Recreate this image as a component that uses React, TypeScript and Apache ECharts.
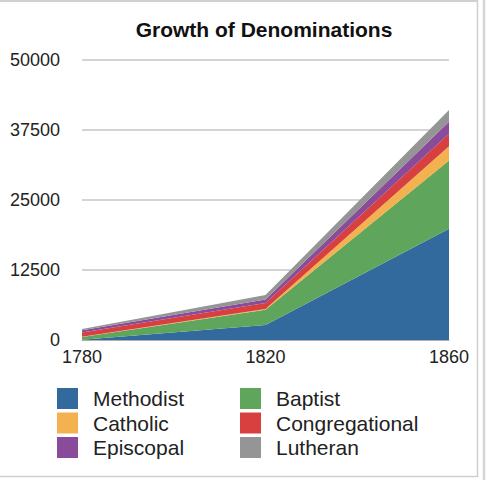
import React, { useEffect, useRef } from "react";
import * as echarts from "echarts";

const years = ["1780", "1820", "1860"];
const seriesNames = ["Methodist", "Baptist", "Catholic", "Congregational", "Episcopal", "Lutheran"];
const methodist = [60, 2700, 19883];
const baptist = [457, 2700, 12150];
const catholic = [56, 124, 2550];
const congregational = [749, 1100, 2234];
const episcopal = [406, 600, 2145];
const lutheran = [240, 800, 2128];
const colors = ["#336a9e", "#5fa65c", "#f4b150", "#d8403f", "#8a4c9a", "#959595"];
const yTicks = [0, 12500, 25000, 37500, 50000];

const values = [methodist, baptist, catholic, congregational, episcopal, lutheran];

export default function App() {
  const ref = useRef<HTMLDivElement>(null);
  useEffect(() => {
    document.body.style.margin = "0";
    const chart = echarts.init(ref.current!, null, { renderer: "svg" });
    const font = "'Liberation Sans', Arial, Helvetica, sans-serif";
    const legendText = { fontSize: 21, color: "#222", padding: [0, 0, 0, 10], lineHeight: 21, fontFamily: font };
    chart.setOption({
      animation: false,
      backgroundColor: "#ffffff",
      textStyle: { fontFamily: font },
      title: {
        text: "Growth of Denominations",
        left: 264,
        textAlign: "center",
        top: 19,
        padding: 0,
        textStyle: { fontSize: 21, fontWeight: "bold", color: "#111", fontFamily: font },
      },
      grid: { left: 82, right: 43, top: 60, bottom: 140, containLabel: false },
      xAxis: {
        type: "category",
        data: years,
        boundaryGap: false,
        axisLine: { show: true, lineStyle: { color: "#b0b0b0", width: 1 } },
        axisTick: { show: false },
        axisLabel: { fontSize: 18, color: "#222", margin: 8, fontFamily: font },
      },
      yAxis: {
        type: "value",
        min: yTicks[0],
        max: yTicks[yTicks.length - 1],
        interval: 12500,
        axisLine: { show: false },
        axisTick: { show: false },
        axisLabel: {
          fontSize: 18,
          color: "#222",
          margin: 22,
          fontFamily: font,
          formatter: (v: number) => String(v),
        },
        splitLine: { lineStyle: { color: "#d4d4d4", width: 2 } },
      },
      legend: [
        {
          orient: "vertical",
          left: 57,
          top: 388,
          padding: 0,
          itemWidth: 21,
          itemHeight: 21,
          itemGap: 3.5,
          icon: "rect",
          data: [seriesNames[0], seriesNames[2], seriesNames[4]],
          textStyle: legendText,
        },
        {
          orient: "vertical",
          left: 240,
          top: 388,
          padding: 0,
          itemWidth: 21,
          itemHeight: 21,
          itemGap: 3.5,
          icon: "rect",
          data: [seriesNames[1], seriesNames[3], seriesNames[5]],
          textStyle: legendText,
        },
      ],
      graphic: [
        { type: "line", shape: { x1: 0, y1: 1, x2: 478, y2: 1 }, style: { stroke: "#d0d0d0", lineWidth: 2 } },
        { type: "line", shape: { x1: 477.5, y1: 0, x2: 477.5, y2: 477 }, style: { stroke: "#cfcfcf", lineWidth: 1.5 } },
        { type: "line", shape: { x1: 0, y1: 476.5, x2: 478, y2: 476.5 }, style: { stroke: "#cfcfcf", lineWidth: 1.5 } },
        { type: "line", shape: { x1: 484, y1: 0, x2: 484, y2: 480 }, style: { stroke: "#d6d6d6", lineWidth: 2.5 } },
      ],
      series: seriesNames.map((name, i) => ({
        name,
        type: "line",
        stack: "total",
        data: values[i],
        showSymbol: false,
        symbol: "none",
        lineStyle: { width: 0 },
        areaStyle: { color: colors[i], opacity: 1 },
        itemStyle: { color: colors[i] },
      })),
    });
    return () => chart.dispose();
  }, []);
  return <div ref={ref} style={{ position: "fixed", left: 0, top: 0, width: 492, height: 480 }} />;
}
